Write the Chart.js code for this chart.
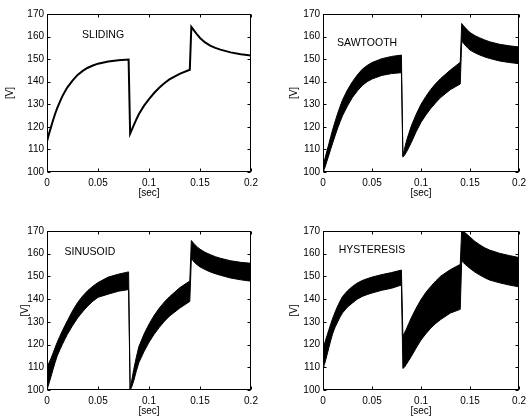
<!DOCTYPE html>
<html>
<head>
<meta charset="utf-8">
<script src="https://cdn.jsdelivr.net/npm/chart.js@4"></script>
<style>
html, body { margin: 0; padding: 0; background: #fff; }
#wrap { position: relative; width: 531px; height: 416px; overflow: hidden; }
canvas { position: absolute; }
</style>
</head>
<body>
<div id="wrap">
  <canvas id="c0" width="265" height="208" style="left:0;top:0"></canvas>
  <canvas id="c1" width="266" height="208" style="left:265px;top:0"></canvas>
  <canvas id="c2" width="265" height="208" style="left:0;top:208px"></canvas>
  <canvas id="c3" width="266" height="208" style="left:265px;top:208px"></canvas>
</div>
<script>
// sample times [sec]
const times = [0, 0.001, 0.002, 0.004, 0.006, 0.008, 0.01, 0.0125, 0.015, 0.0175, 0.02,
  0.025, 0.03, 0.035, 0.04, 0.045, 0.05, 0.06, 0.07, 0.08,
  0.0815, 0.083, 0.085, 0.0875, 0.09, 0.095, 0.1, 0.105, 0.11, 0.115, 0.12, 0.13, 0.14,
  0.1415, 0.143, 0.145, 0.1475, 0.15, 0.155, 0.16, 0.165, 0.17, 0.18, 0.19, 0.2];

// voltage [V] (ripple bands as upper / lower envelope)
const slidingV = [113.5, 115.3, 117, 120, 123, 125.8, 128.3, 131, 133.5, 135.6, 137.5,
  140.5, 143, 144.8, 146.2, 147.2, 148, 149, 149.5, 149.8,
  117, 118.6, 120.7, 123.2, 125.6, 129.3, 132.3, 135, 137.3, 139.3, 141, 143.5, 145.3,
  164.3, 163.4, 162.2, 160.7, 159.4, 157.4, 156, 155, 154.2, 153, 152.2, 151.6];

const sawtoothHigh = [102, 104, 106, 109.3, 112.5, 115.8, 119, 122.6, 126, 129.1, 132,
  136.4, 140, 143, 145.5, 147.2, 148.5, 150.2, 151.2, 151.8,
  107.2, 110, 113.5, 117, 120.3, 125.5, 130, 133.5, 136.6, 139.2, 141.4, 145.2, 148.6,
  165.8, 165, 164, 162.8, 161.8, 160.4, 159.4, 158.5, 157.7, 156.6, 155.9, 155.4];
const sawtoothLow = [100, 101, 102, 104.8, 107.5, 110.3, 113, 116.3, 119.5, 122.3, 125,
  129.3, 133, 135.9, 138.3, 140, 141.2, 142.8, 143.6, 144,
  106.6, 107.3, 108.7, 110.8, 113, 117.8, 122, 125.3, 128.2, 130.7, 133, 136.5, 139,
  158, 157.2, 156.2, 155, 154, 152.8, 151.8, 151, 150.3, 149.2, 148.5, 148];

const sinusoidHigh = [110, 111, 112, 114, 116.3, 118.7, 121, 123.6, 126, 128.3, 130.5,
  134.8, 138.5, 141.4, 143.8, 145.7, 147.3, 149.7, 151, 152,
  100.5, 104, 109, 114.3, 119, 124.5, 129, 132.8, 136, 138.7, 141, 145, 148,
  165.8, 165, 164, 162.9, 162, 160.6, 159.6, 158.7, 158, 156.9, 156.2, 155.8];
const sinusoidLow = [100, 101.5, 103, 106, 109.2, 112.2, 115, 117.6, 120, 122.3, 124.5,
  128.3, 131.7, 134.5, 137, 139.1, 140.8, 142.2, 143.5, 144.2,
  100, 101.3, 104, 108.2, 112, 116.8, 121, 124.5, 127.5, 130.2, 132.5, 136, 139,
  157.7, 157, 156, 155, 154.2, 153, 152, 151.2, 150.5, 149.3, 148.5, 147.9];

const hysteresisHigh = [118, 119.5, 121, 123.8, 126.5, 129.2, 131.7, 134.5, 137, 139.2, 141.2,
  143.7, 145.6, 147.1, 148.2, 149, 149.7, 150.8, 151.7, 152.8,
  124, 125, 126.8, 129.3, 131.7, 136, 139.8, 143, 145.6, 148, 150.1, 153, 155.3,
  170.5, 170, 169.2, 168.3, 167.3, 165.4, 163.9, 162.6, 161.6, 160.2, 159.2, 158.3];
const hysteresisLow = [110, 111, 112, 115.3, 118.7, 122, 125, 127.8, 130, 132.2, 134,
  136.5, 138.3, 140, 141.2, 142, 142.7, 143.9, 144.8, 146.2,
  109.5, 110, 111.3, 113, 114.7, 118.5, 122, 124.8, 127.3, 129.3, 131, 133.9, 135.5,
  157, 156.2, 155.3, 154.4, 153.5, 151.9, 150.6, 149.4, 148.4, 147.2, 146.2, 145.4];

const xTicks = [0, 0.05, 0.1, 0.15, 0.2];
const yTicks = [100, 110, 120, 130, 140, 150, 160, 170];
const plotNames = ["SLIDING", "SAWTOOTH", "SINUSOID", "HYSTERESIS"];

// where each name sits, in data units
const nameAt = [[0.055, 160.7], [0.045, 157.2], [0.042, 160.6], [0.05, 161.5]];

Chart.defaults.font.family = '"Liberation Sans", Arial, Helvetica, sans-serif';
Chart.defaults.font.size = 10;
Chart.defaults.color = "#000";

function pts(vals) {
  return times.map((t, i) => ({ x: t, y: vals[i] }));
}

// matlab style box with inward ticks
const boxTicks = {
  id: "boxTicks",
  afterDraw(chart) {
    const { ctx, chartArea: a, scales } = chart;
    const l = Math.round(a.left) + 0.5, r = Math.round(a.right) - 0.5;
    const t = Math.round(a.top) + 0.5, b = Math.round(a.bottom) - 0.5;
    ctx.save();
    ctx.strokeStyle = "#000";
    ctx.lineWidth = 1;
    ctx.beginPath();
    xTicks.forEach(v => {
      const px = Math.round(scales.x.getPixelForValue(v)) + 0.5;
      ctx.moveTo(px, b); ctx.lineTo(px, b - 3);
      ctx.moveTo(px, t); ctx.lineTo(px, t + 3);
    });
    yTicks.forEach(v => {
      const py = Math.round(scales.y.getPixelForValue(v)) + 0.5;
      ctx.moveTo(l, py); ctx.lineTo(l + 3, py);
      ctx.moveTo(r, py); ctx.lineTo(r - 3, py);
    });
    ctx.stroke();
    ctx.strokeRect(l, t, r - l, b - t);
    ctx.restore();
  }
};

const nameLabel = {
  id: "nameLabel",
  afterDraw(chart, args, opts) {
    const { ctx, scales } = chart;
    ctx.save();
    ctx.font = '10.5px "Liberation Sans", Arial, sans-serif';
    ctx.fillStyle = "#000";
    ctx.textAlign = "center";
    ctx.textBaseline = "middle";
    ctx.fillText(opts.text, scales.x.getPixelForValue(opts.x), scales.y.getPixelForValue(opts.y));
    ctx.restore();
  }
};

function band(high, low) {
  return [
    { data: pts(high), borderColor: "#000", backgroundColor: "#000", borderWidth: 1,
      pointRadius: 0, fill: "+1", tension: 0 },
    { data: pts(low), borderColor: "#000", borderWidth: 1,
      pointRadius: 0, fill: false, tension: 0 }
  ];
}

const series = [
  [{ data: pts(slidingV), borderColor: "#000", borderWidth: 2, pointRadius: 0,
     fill: false, tension: 0 }],
  band(sawtoothHigh, sawtoothLow),
  band(sinusoidHigh, sinusoidLow),
  band(hysteresisHigh, hysteresisLow)
];

// canvas layout per panel
const panels = [
  { top: 14, right: 14, yWidth: 47, xHeight: 36, vPad: 5, sPad: 10 },
  { top: 14, right: 7, yWidth: 58, xHeight: 36, vPad: 24, sPad: 10 },
  { top: 23, right: 14, yWidth: 47, xHeight: 26, vPad: 20, sPad: 0 },
  { top: 23, right: 7, yWidth: 58, xHeight: 26, vPad: 24, sPad: 0 }
];

panels.forEach((p, i) => {
  new Chart(document.getElementById("c" + i), {
    type: "line",
    data: { datasets: series[i] },
    plugins: [boxTicks, nameLabel],
    options: {
      responsive: false,
      animation: false,
      layout: { padding: { top: p.top, right: p.right, left: 0, bottom: 0 } },
      plugins: {
        legend: { display: false },
        tooltip: { enabled: false },
        nameLabel: { text: plotNames[i], x: nameAt[i][0], y: nameAt[i][1] }
      },
      scales: {
        x: {
          type: "linear", min: 0, max: 0.2,
          grid: { display: false, drawTicks: false },
          border: { display: false },
          afterBuildTicks: s => { s.ticks = xTicks.map(v => ({ value: v })); },
          afterFit: s => { s.height = p.xHeight; },
          ticks: { padding: 5, maxRotation: 0, autoSkip: false, callback: v => String(v) },
          title: { display: true, text: "[sec]", font: { size: 10, lineHeight: 1 },
                   padding: { top: 0, bottom: p.sPad } }
        },
        y: {
          min: 100, max: 170,
          grid: { display: false, drawTicks: false },
          border: { display: false },
          afterBuildTicks: s => { s.ticks = yTicks.map(v => ({ value: v })); },
          afterFit: s => { s.width = p.yWidth; },
          ticks: { padding: 3, autoSkip: false },
          title: { display: true, text: "[V]", font: { size: 10, lineHeight: 1 },
                   padding: { top: p.vPad, bottom: 0 } }
        }
      }
    }
  });
});
</script>
</body>
</html>
